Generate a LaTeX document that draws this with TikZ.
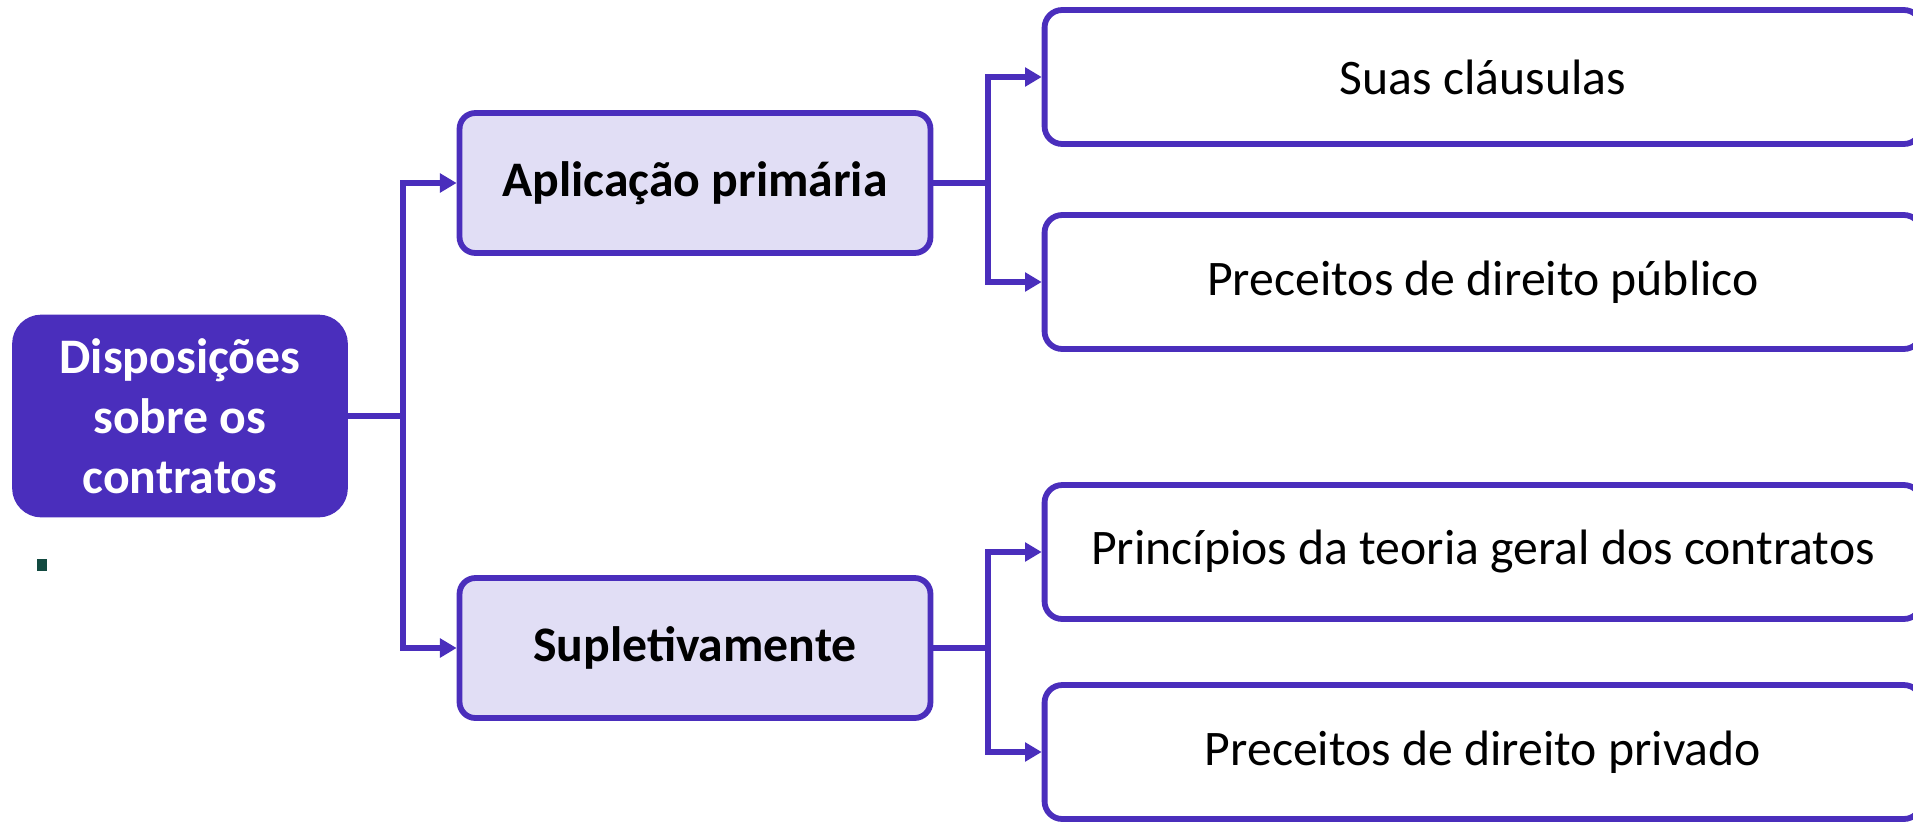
\documentclass[tikz,border=0pt]{standalone}
\usepackage{fontspec}
\setmainfont{Carlito}
\usetikzlibrary{arrows.meta,positioning}
\definecolor{roxo}{HTML}{4A2EBC}
\definecolor{lilas}{HTML}{E1DEF5}
\definecolor{marca}{HTML}{124A40}
\tikzset{
  raiz/.style={rectangle,rounded corners=15pt,fill=roxo,draw=roxo,line width=3.3pt,
    text=white,font=\fontsize{28.3}{34}\selectfont\bfseries,align=center,
    minimum width=6.6cm,minimum height=3.94cm},
  meio/.style={rectangle,rounded corners=9pt,fill=lilas,draw=roxo,line width=3.3pt,
    font=\fontsize{28.3}{34}\selectfont\bfseries,
    minimum width=9.42cm,minimum height=2.8cm},
  folha/.style={rectangle,rounded corners=10pt,fill=white,draw=roxo,line width=3.3pt,
    font=\fontsize{28.3}{34}\selectfont,
    minimum width=17.54cm,minimum height=2.68cm},
  liga/.style={draw=roxo,line width=3.4pt,-{Triangle[length=9.5pt,width=10.5pt]}}
}
\begin{document}
\begin{tikzpicture}[x=0.02cm,y=-0.02cm]
\useasboundingbox (0,0) rectangle (1913,822);
% \draw[help lines,step=100] (0,0) grid (1913,822);
\node (root) [raiz] at (180,416) {Disposições\\sobre os\\contratos};
\node (apl) [meio] at (695,183) {Aplicação primária};
\node (sup) [meio] at (695,648) {Supletivamente};
\node (r1) [folha] at (1483,77) {Suas cláusulas};
\node (r2) [folha] at (1483,282) {Preceitos de direito público};
\node (r3) [folha] at (1483,552) {Princípios da teoria geral dos contratos};
\node (r4) [folha] at (1483,752) {Preceitos de direito privado};
\node (ponto) [rectangle,fill=marca,inner sep=0pt,minimum width=0.22cm,minimum height=0.25cm] at (42,565) {};
%
\coordinate (b1) at (403,416);
\coordinate (b2) at (988,183);
\coordinate (b3) at (988,648);
%
\draw[liga] (root.east) -- (b1) |- (apl.west);
\draw[liga] (b1) |- (sup.west);
\draw[liga] (apl.east) -- (b2) |- (r1.west);
\draw[liga] (b2) |- (r2.west);
\draw[liga] (sup.east) -- (b3) |- (r3.west);
\draw[liga] (b3) |- (r4.west);
\end{tikzpicture}
\end{document}
